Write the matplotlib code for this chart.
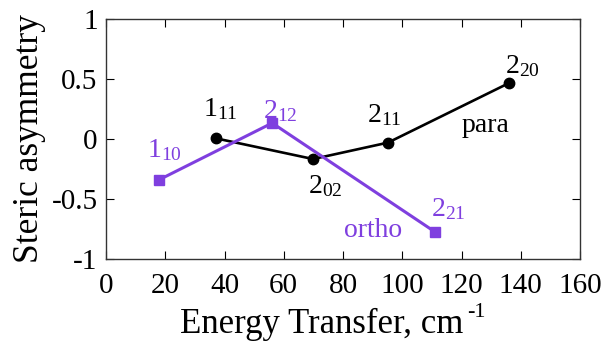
import matplotlib
matplotlib.use("Agg")
import matplotlib.pyplot as plt

plt.rcParams['font.family'] = ['Liberation Serif', 'DejaVu Serif']
plt.rcParams['mathtext.fontset'] = 'custom'
plt.rcParams['mathtext.rm'] = 'Liberation Serif'

# para series (black circles)
para_x = [37.2, 69.9, 95.2, 136.1]
para_y = [0.005, -0.167, -0.03, 0.467]
para_labels = ["1_{11}", "2_{02}", "2_{11}", "2_{20}"]

# ortho series (purple squares)
ortho_x = [17.9, 56.1, 111.1]
ortho_y = [-0.34, 0.133, -0.775]
ortho_labels = ["1_{10}", "2_{12}", "2_{21}"]

purple = "#7f3fdf"

fig = plt.figure(figsize=(6.05, 3.49), dpi=100)
ax = fig.add_axes([106/605, 1 - 259/349, (580-106)/605, (259-19)/349])

ax.plot(para_x, para_y, color="black", lw=1.9, marker="o", ms=7.5)
ax.plot(ortho_x, ortho_y, color=purple, lw=2.2, marker="s", ms=7.5)

# label offsets in pixels (left edge, baseline) relative to the point
para_off = [(-13, 22), (-5, -34), (-21, 20), (-4, 10)]
ortho_off = [(-12, 23), (-9, 5), (-4, 16)]
for x, y, t, o in zip(para_x, para_y, para_labels, para_off):
    ax.annotate(r"$\mathrm{" + t + "}$", (x, y), xytext=o, textcoords="offset pixels",
                ha="left", va="baseline", fontsize=20, color="black")
for x, y, t, o in zip(ortho_x, ortho_y, ortho_labels, ortho_off):
    ax.annotate(r"$\mathrm{" + t + "}$", (x, y), xytext=o, textcoords="offset pixels",
                ha="left", va="baseline", fontsize=20, color=purple)

ax.text(120.2, 0.058, "para", fontsize=20, ha="left", va="baseline", color="black")
ax.text(80.3, -0.817, "ortho", fontsize=20, ha="left", va="baseline", color=purple)

ax.set_xlim(0, 160)
ax.set_ylim(-1, 1)
ax.set_xticks(range(0, 161, 20))
ax.set_yticks([-1, -0.5, 0, 0.5, 1])
ax.set_yticklabels(["-1", "-0.5", "0", "0.5", "1"])
ax.tick_params(direction="in", top=True, right=True, labelsize=21, length=6)
ax.tick_params(axis="x", pad=10)
ax.tick_params(axis="y", pad=6)
for s in ax.spines.values():
    s.set_color("#333333")
    s.set_linewidth(1)

ax.set_ylabel("Steric asymmetry", fontsize=25.5, labelpad=4)

# x label drawn as figure text so the hyphen superscript sits like the original
xl = fig.text(180 / 605, 1 - 333 / 349, "Energy Transfer, cm", fontsize=25,
              ha="left", va="baseline")
fig.canvas.draw()
bb = xl.get_window_extent()
fig.text((bb.x1 + 4) / 605, 1 - 317 / 349, "-1", fontsize=16, ha="left", va="baseline")

fig.savefig("out.png", dpi=100)
